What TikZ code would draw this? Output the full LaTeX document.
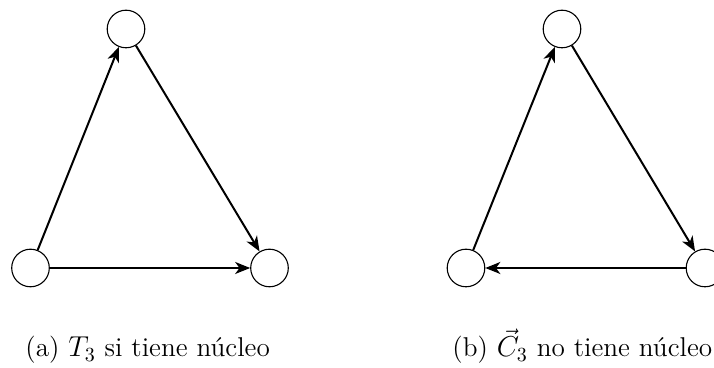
\documentclass[tikz,border=0pt]{standalone}
\usetikzlibrary{arrows.meta}
\begin{document}
\begin{tikzpicture}[x=0.5pt,y=-0.5pt,
  vertex/.style={circle,draw,line width=0.55pt,minimum size=18.8pt,inner sep=0pt},
  edge/.style={line width=1pt,-{Stealth[length=7.5pt,width=6pt,inset=2.2pt]}},
  captext/.style={anchor=base west,inner sep=0pt,font=\fontsize{13.6}{16}\selectfont}]
\useasboundingbox (0,0) rectangle (714,368);
% (a)
\node[vertex] (a1) at (126,29) {};
\node[vertex] (a2) at (30.5,268) {};
\node[vertex] (a3) at (269.5,268) {};
\draw[edge] (a2) -- (a1);
\draw[edge] (a1) -- (a3);
\draw[edge] (a2) -- (a3);
% (b)
\node[vertex] (b1) at (562,29) {};
\node[vertex] (b2) at (466,268) {};
\node[vertex] (b3) at (705,268) {};
\draw[edge] (b2) -- (b1);
\draw[edge] (b1) -- (b3);
\draw[edge] (b3) -- (b2);
% captions
\node[captext] (ca) at (25,357) {(a) $T_3$ si tiene núcleo};
\node[captext] (cb) at (452,357) {(b) $\vec{C}_3$ no tiene núcleo};
\end{tikzpicture}
\end{document}
